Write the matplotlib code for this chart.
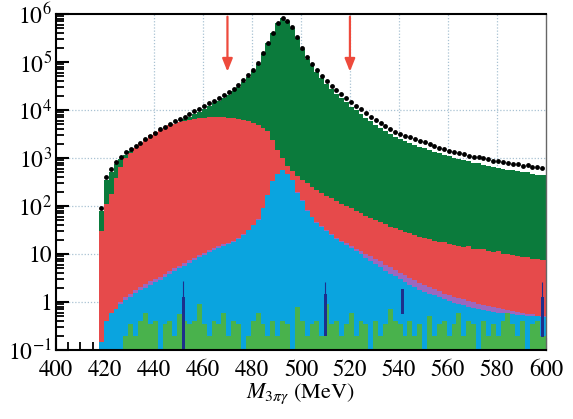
import numpy as np
import matplotlib
matplotlib.use("Agg")
import matplotlib.pyplot as plt
from matplotlib.ticker import FixedLocator, LogLocator, MultipleLocator, NullFormatter

plt.rcParams['font.family'] = 'STIXGeneral'
plt.rcParams['mathtext.fontset'] = 'stix'

# 2 MeV bins, first bin centred at 418.5 MeV
edges = np.append(np.arange(417.5, 599, 2), 600)
centers = np.arange(418.5, 599, 2)

# data points (black dots)
data_vals = [90, 400, 580, 840, 1060, 1310, 1540, 1780, 2080, 2450,
             2870, 3370, 3960, 4500, 5110, 5810, 6490, 7260, 8250, 9380,
             10660, 12110, 13760, 15640, 17780, 20540, 23710, 27800, 33190, 42170,
             53600, 68000, 96800, 151700, 245000, 408000, 659000, 813000, 726000, 527000,
             326000, 193000, 125000, 90900, 68100, 51900, 40800, 32100, 26100, 21500,
             17800, 14700, 12300, 10500, 8660, 7260, 6190, 5270, 4640, 3950,
             3540, 3160, 2920, 2700, 2450, 2260, 2120, 1960, 1780, 1640,
             1540, 1420, 1330, 1250, 1190, 1120, 1070, 1030, 985, 938,
             879, 866, 826, 774, 750, 750, 681, 703, 640, 640, 620]

# stacked MC, cumulative tops of each layer
mc_total = [80, 350, 520, 750, 950, 1180, 1380, 1600, 1850, 2200,
            2550, 3000, 3500, 4000, 4500, 5100, 5700, 6400, 7200, 8200,
            9300, 10500, 12000, 13700, 15600, 18000, 21000, 25000, 30000, 38000,
            49000, 64000, 92000, 148000, 245000, 410000, 660000, 810000, 720000, 520000,
            320000, 188000, 118000, 85000, 62000, 46000, 35000, 27000, 21500, 17500,
            14400, 11800, 9800, 8300, 6900, 5800, 4900, 4200, 3600, 3100,
            2750, 2450, 2250, 2050, 1880, 1720, 1600, 1480, 1360, 1260,
            1180, 1090, 1010, 960, 900, 850, 800, 770, 730, 690,
            650, 630, 600, 570, 550, 540, 500, 510, 460, 450, 440]

red_top = [30, 110, 180, 380, 650, 1000, 1300, 1650, 2050, 2500,
           3000, 3450, 3900, 4400, 4800, 5200, 5550, 5850, 6200, 6500,
           6750, 6900, 7050, 7100, 7100, 7000, 6850, 6650, 6450, 6200,
           5900, 5400, 4900, 4300, 3600, 2400, 1500, 1000, 680, 540,
           430, 350, 300, 250, 215, 190, 160, 145, 125, 112,
           100, 92, 80, 70, 62, 55, 50, 46, 42, 37,
           35, 31, 29, 28, 25, 23, 22, 21, 19, 18,
           17.5, 16, 15.5, 15, 14, 14.5, 13, 12.5, 13, 11.5,
           11, 11.5, 10, 10, 9.5, 9, 8.8, 8.5, 8, 7.8, 7.5]

purple_top = [0.15, 0.4, 0.58, 0.72, 1.0, 1.25, 1.5, 1.8, 2.1, 2.35,
              2.7, 3.0, 3.35, 3.85, 4.4, 5.0, 5.7, 6.4, 7.4, 8.3,
              9.4, 10.6, 12, 13.2, 14.5, 16, 16.8, 18.9, 22, 26,
              32, 41, 53, 92, 172, 332, 472, 552, 472, 352,
              192, 132, 82, 59, 46, 38, 31, 26, 22, 19,
              17, 15, 13, 11.5, 10.2, 9, 8, 7, 6, 5.3,
              4.6, 4.1, 3.6, 3.2, 2.85, 2.5, 2.25, 2.05, 1.85, 1.7,
              1.5, 1.4, 1.3, 1.22, 1.13, 1.06, 0.99, 0.93, 0.88, 0.84,
              0.8, 0.76, 0.72, 0.68, 0.66, 0.62, 0.6, 0.57, 0.55, 0.52, 0.5]

blue_top = [0.15, 0.4, 0.58, 0.72, 0.9, 1.1, 1.3, 1.55, 1.8, 2.0,
            2.3, 2.55, 2.85, 3.3, 3.8, 4.4, 5.0, 5.7, 6.6, 7.5,
            8.5, 9.7, 11, 12.2, 13.5, 15, 16, 18, 21, 25,
            31, 40, 52, 90, 170, 330, 470, 550, 470, 350,
            190, 130, 80, 58, 45, 37, 30, 25, 21, 18,
            15.5, 13.5, 11.5, 9.8, 8.4, 7.2, 6.2, 5.3, 4.5, 3.9,
            3.4, 3.0, 2.6, 2.3, 2.05, 1.82, 1.65, 1.5, 1.37, 1.25,
            1.13, 1.04, 0.97, 0.91, 0.85, 0.8, 0.75, 0.71, 0.68, 0.65,
            0.62, 0.6, 0.58, 0.56, 0.55, 0.54, 0.53, 0.52, 0.51, 0.5, 0.49]

lightgreen_top = [0, 0, 0, 0, 0, 0.2, 0.35, 0.2, 0.4, 0.6,
                  0.35, 0.4, 0, 0.35, 0.4, 0.2, 0.55, 0.4, 0.35, 0.4,
                  0.9, 0.35, 0.2, 0.4, 0.35, 0.6, 0.2, 0.4, 0.35, 0,
                  0.2, 0.4, 0.6, 0.35, 0.2, 0.4, 0.2, 0.4, 0.35, 0,
                  0.8, 0.4, 0.2, 0.35, 0.4, 0.2, 0.9, 0.35, 0.4, 0.2,
                  0.35, 0.6, 0.2, 0.4, 0.35, 0, 0.4, 0.2, 0.35, 0.7,
                  0.4, 0.35, 0.2, 0.4, 0.2, 0.35, 0, 0.5, 0.2, 0.35,
                  0.4, 0.2, 0.35, 0.6, 0.2, 0.4, 0.35, 0, 0.4, 0.2,
                  0.35, 0.2, 0.4, 0.6, 0.35, 0.2, 0.4, 0, 0.35, 0.4, 0.2]

# isolated dark blue bins
spike_x = [452, 510, 541.5, 598.5]
spike_lo = [0.1, 0.2, 0.57, 0.19]
spike_hi = [1.3, 1.5, 1.9, 1.3]
spike_tip = [2.8, 2.6, 1.9, 2.6]

arrow_x = [470, 520]
arrow_from = 8.8e5
arrow_to = 6.3e4

xticks = [400, 420, 440, 460, 480, 500, 520, 540, 560, 580, 600]
yticks = [1e-1, 1, 10, 1e2, 1e3, 1e4, 1e5, 1e6]
ytick_labels = [r'$10^{-1}$', '1', '10', r'$10^{2}$', r'$10^{3}$',
                r'$10^{4}$', r'$10^{5}$', r'$10^{6}$']
grid_x = [440, 460, 480, 500, 520, 540, 560, 580]
grid_y = [1, 10, 1e2, 1e3, 1e4]

c_green = '#0b7b3c'
c_red = '#e64a4b'
c_purple = '#9c68bf'
c_blue = '#0aa4df'
c_lgreen = '#49b24c'
c_navy = '#1d2f8c'
c_arrow = '#ee4a3c'

fig = plt.figure(figsize=(5.73, 4.19), dpi=100)
ax = fig.add_axes([0.0977, 0.1647, 0.855, 0.8019])
ax.set_yscale('log')
ax.set_xlim(400, 600)
ax.set_ylim(0.1, 1e6)
ax.set_axisbelow(True)

for gx in grid_x:
    ax.axvline(gx, color='#a9c2d3', lw=0.9, ls=(0, (1, 1.5)), zorder=0.5)
for gy in grid_y:
    ax.axhline(gy, color='#a9c2d3', lw=0.9, ls=(0, (1, 1.5)), zorder=0.5)

floor = 0.05
layers = [(mc_total, c_green), (red_top, c_red), (purple_top, c_purple),
          (blue_top, c_blue), (lightgreen_top, c_lgreen)]
for vals, col in layers:
    ax.stairs(np.maximum(vals, floor), edges, baseline=floor, fill=True,
              color=col, lw=0, zorder=1)

lo = np.array(spike_lo)
hi = np.array(spike_hi)
ax.bar(spike_x, hi - lo, bottom=lo, width=1.1, color=c_navy, lw=0, zorder=1.5)
ax.vlines(spike_x, hi, spike_tip, color=c_navy, lw=0.8, zorder=1.5)

ax.plot(centers, data_vals, 'o', color='black', ms=3.5, mew=0, zorder=3)

for xa in arrow_x:
    ax.annotate('', xy=(xa, arrow_to), xytext=(xa, arrow_from),
                arrowprops=dict(arrowstyle='-|>,head_width=0.22,head_length=0.55',
                                color=c_arrow, lw=1.6, mutation_scale=14,
                                shrinkA=0, shrinkB=0), zorder=4)

ax.xaxis.set_major_locator(FixedLocator(xticks))
ax.xaxis.set_minor_locator(MultipleLocator(5))
ax.set_xticklabels([str(v) for v in xticks])
ax.yaxis.set_major_locator(FixedLocator(yticks))
ax.set_yticklabels(ytick_labels)
ax.yaxis.set_minor_locator(LogLocator(base=10, subs=np.arange(2, 10), numticks=20))
ax.yaxis.set_minor_formatter(NullFormatter())

ax.tick_params(which='major', direction='in', length=9, width=1.5,
               top=False, right=False)
ax.tick_params(which='minor', direction='in', length=5.5, width=1.3,
               top=False, right=False)
ax.tick_params(axis='x', which='major', labelsize=16.5, pad=7)
ax.tick_params(axis='y', which='major', labelsize=17, pad=3)

for side in ['left', 'bottom', 'top']:
    ax.spines[side].set_linewidth(1.5)
ax.spines['right'].set_linewidth(1.0)
ax.spines['right'].set_color('#666666')
for sp in ax.spines.values():
    sp.set_zorder(5)

ax.set_xlabel(r'$M_{3\pi\gamma}$ (MeV)', fontsize=16, labelpad=0)

fig.savefig('out.png', dpi=100)
